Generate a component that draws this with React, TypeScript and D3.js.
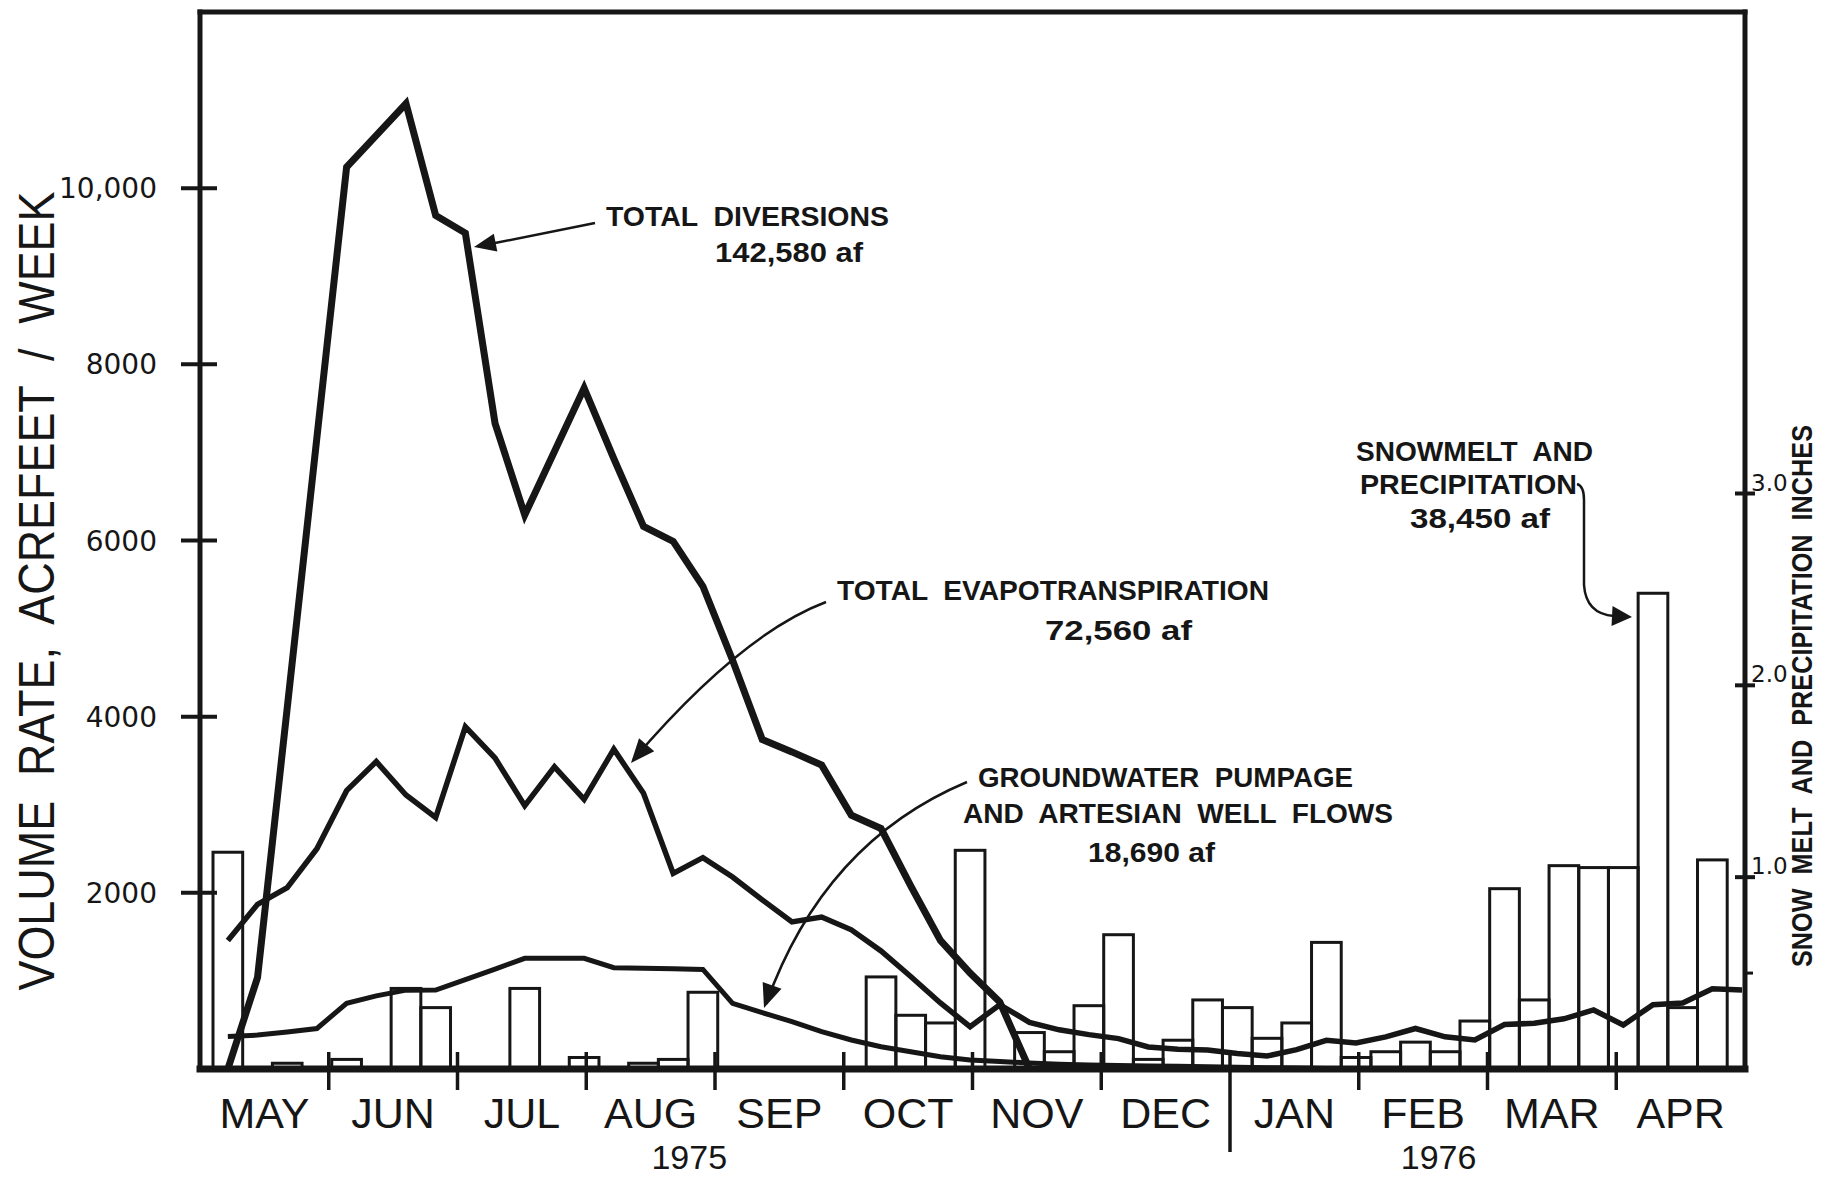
import React from "react";
import * as d3 from "d3";

// ---------- data ----------
const MONTHS = ["MAY", "JUN", "JUL", "AUG", "SEP", "OCT", "NOV", "DEC", "JAN", "FEB", "MAR", "APR"];
const YEARS = ["1975", "1976"];
const LEFT_TICKS = [2000, 4000, 6000, 8000, 10000];
const LEFT_TICK_LABELS = ["2000", "4000", "6000", "8000", "10,000"];
const RIGHT_TICKS = [1.0, 2.0, 3.0];
const RIGHT_TICK_LABELS = ["1.0", "2.0", "3.0"];
const RIGHT_MINOR_TICKS = [0.5];

// weekly values (acre-feet / week), week 0 = first week of May 1975
const TOTAL_DIVERSIONS = [
  0, 1040, 4100, 7170, 10240, 10600, 10960, 9690, 9490, 7330, 6290, 7010, 7730, 6930,
  6160, 5990, 5480, 4640, 3740, 3600, 3450, 2880, 2730, 2080, 1460, 1090, 760, 0,
];
const TOTAL_EVAPOTRANSPIRATION = [
  1460, 1870, 2060, 2500, 3160, 3490, 3110, 2855, 3885, 3530, 2990, 3430, 3060, 3630,
  3130, 2220, 2400, 2180, 1920, 1670, 1725, 1580, 1340, 1050, 750, 480, 730, 530, 445,
  390, 345, 250, 225, 215, 175, 147, 220, 325, 295, 365, 460, 365, 330, 505, 519, 570,
  670, 500, 730, 750, 910, 897,
];
const GROUNDWATER = [
  370, 385, 420, 460, 746, 830, 895, 897, 1015, 1135, 1256, 1256, 1256, 1150, 1145, 1138,
  1130, 746, 640, 537, 424, 329, 253, 196, 140, 102, 85, 68, 55, 45, 40, 35, 30, 25, 20,
  15, 10, 5, 0, 0, 0, 0, 0, 0, 0, 0, 0, 0, 0, 0, 0, 0,
];
// weekly snowmelt and precipitation (inches)
const SNOWMELT_PRECIP = [
  1.13, 0, 0.03, 0, 0.05, 0, 0.42, 0.32, 0, 0,
  0.42, 0, 0.06, 0, 0.03, 0.05, 0.4, 0, 0, 0,
  0, 0, 0.48, 0.28, 0.24, 1.14, 0, 0.19, 0.09, 0.33,
  0.7, 0.05, 0.15, 0.36, 0.32, 0.16, 0.24, 0.66, 0.06, 0.09,
  0.14, 0.09, 0.25, 0.94, 0.36, 1.06, 1.05, 1.05, 2.48, 0.32, 1.09,
];

// ---------- layout ----------
const W = 1826;
const H = 1178;
const X0 = 200;
const X1 = 1745;
const Y_BASE = 1069;
const Y_TOP = 12;
const INK = "#161616";
const FONT = "'Liberation Sans', Arial, sans-serif";
const FONT_NUM = "'DejaVu Sans', 'Liberation Sans', sans-serif";

const xMonth = d3.scaleLinear().domain([0, 12]).range([X0, X1]);
const xWeek = d3.scaleLinear().domain([0, 51]).range([213, 1727.2]);
const yLeft = d3.scaleLinear().domain([0, 12000]).range([Y_BASE, Y_TOP]);
const yRight = d3.scaleLinear().domain([0, 5.51]).range([Y_BASE, Y_TOP]);

const weekLine = d3
  .line<number>()
  .x((_, i) => xWeek(i + 0.5))
  .y((d) => yLeft(d));

function arrowHead(tipX: number, tipY: number, dx: number, dy: number, len: number, half: number) {
  const n = Math.hypot(dx, dy);
  const ux = dx / n;
  const uy = dy / n;
  const bx = tipX - ux * len;
  const by = tipY - uy * len;
  const px = -uy * half;
  const py = ux * half;
  return `M${tipX},${tipY}L${bx + px},${by + py}L${bx - px},${by - py}Z`;
}

function Label(props: {
  x: number;
  y: number;
  text: string;
  size: number;
  len?: number;
  weight?: string | number;
  anchor?: "start" | "middle" | "end";
  family?: string;
  transform?: string;
}) {
  const { x, y, text, size, len, weight = "normal", anchor = "start", family = FONT, transform } = props;
  return (
    <text
      x={x}
      y={y}
      fontSize={size}
      fontFamily={family}
      fontWeight={weight}
      textAnchor={anchor}
      fill={INK}
      transform={transform}
      textLength={len}
      lengthAdjust={len ? "spacingAndGlyphs" : undefined}
      style={{ whiteSpace: "pre" }}
    >
      {text}
    </text>
  );
}

export default function App() {
  const barW = xWeek(1) - xWeek(0);

  // annotation arrows
  const etPath = "M826,602 Q741,634 633,760";
  const gwPath = "M967,782 Q824,842 766,1004";
  const smPath = "M1577,484 Q1584,486 1584,500 L1584,585 Q1586,614 1614,616";

  return (
    <svg
      width={W}
      height={H}
      viewBox={`0 0 ${W} ${H}`}
      style={{ position: "absolute", left: 0, top: 0, background: "#ffffff" }}
    >
      <rect x={0} y={0} width={W} height={H} fill="#ffffff" />

      {/* snowmelt bars */}
      <g fill="none" stroke={INK} strokeWidth={3}>
        {SNOWMELT_PRECIP.map((v, i) =>
          v > 0 ? (
            <rect key={i} x={xWeek(i)} y={yRight(v)} width={barW} height={Y_BASE - yRight(v)} />
          ) : null
        )}
      </g>

      {/* lines */}
      <g fill="none" stroke={INK} strokeLinejoin="miter" strokeMiterlimit={6}>
        <path d={weekLine(GROUNDWATER) || ""} strokeWidth={5} />
        <path d={weekLine(TOTAL_EVAPOTRANSPIRATION) || ""} strokeWidth={5.5} />
        <path d={weekLine(TOTAL_DIVERSIONS) || ""} strokeWidth={7} />
      </g>

      {/* frame */}
      <g stroke={INK} fill="none" strokeLinecap="square">
        <line x1={X0} y1={Y_TOP} x2={X1} y2={Y_TOP} strokeWidth={5} />
        <line x1={X0} y1={Y_TOP} x2={X0} y2={Y_BASE} strokeWidth={5} />
        <line x1={X1} y1={Y_TOP} x2={X1} y2={Y_BASE} strokeWidth={5} />
        <line x1={X0} y1={Y_BASE} x2={X1} y2={Y_BASE} strokeWidth={7} />
      </g>

      {/* left axis ticks + labels */}
      <g>
        {LEFT_TICKS.map((t, i) => (
          <g key={t}>
            <line x1={181} x2={217} y1={yLeft(t)} y2={yLeft(t)} stroke={INK} strokeWidth={4} />
            <Label x={157} y={yLeft(t) + 10} text={LEFT_TICK_LABELS[i]} size={28} anchor="end" family={FONT_NUM} />
          </g>
        ))}
      </g>

      {/* right axis ticks + labels */}
      <g>
        {RIGHT_TICKS.map((t, i) => (
          <g key={t}>
            <line x1={1735} x2={1755} y1={yRight(t)} y2={yRight(t)} stroke={INK} strokeWidth={4} />
            <Label x={1751} y={yRight(t) - 3} text={RIGHT_TICK_LABELS[i]} size={23} family={FONT_NUM} />
          </g>
        ))}
        {RIGHT_MINOR_TICKS.map((t) => (
          <line key={t} x1={1745} x2={1753} y1={yRight(t)} y2={yRight(t)} stroke={INK} strokeWidth={3} />
        ))}
      </g>

      {/* month ticks and labels */}
      <g>
        {d3.range(1, 12).map((m) => (
          <line
            key={m}
            x1={xMonth(m)}
            x2={xMonth(m)}
            y1={1052}
            y2={m === 8 ? 1152 : 1090}
            stroke={INK}
            strokeWidth={3.5}
          />
        ))}
        {MONTHS.map((mo, i) => (
          <Label key={mo} x={xMonth(i + 0.5)} y={1128} text={mo} size={43} anchor="middle" />
        ))}
        <Label x={xMonth(3.8)} y={1169} text={YEARS[0]} size={34} anchor="middle" />
        <Label x={xMonth(9.62)} y={1169} text={YEARS[1]} size={34} anchor="middle" />
      </g>

      {/* axis titles */}
      <Label
        x={0}
        y={0}
        text="VOLUME  RATE,  ACREFEET  /  WEEK"
        size={50}
        anchor="middle"
        len={799}
        transform="translate(54,591) rotate(-90)"
      />
      <Label
        x={0}
        y={0}
        text="SNOW  MELT  AND  PRECIPITATION  INCHES"
        size={29}
        weight="bold"
        anchor="middle"
        len={542}
        transform="translate(1812,696) rotate(-90)"
      />

      {/* annotations */}
      <g>
        <Label x={606} y={226} text="TOTAL  DIVERSIONS" size={28} weight="bold" len={283} />
        <Label x={715} y={262} text="142,580 af" size={28} weight="bold" len={148} />
        <line x1={595} y1={223} x2={490} y2={244} stroke={INK} strokeWidth={2.5} />
        <path d={arrowHead(474, 247, -120, 24, 22, 9)} fill={INK} />

        <Label x={837} y={600} text="TOTAL  EVAPOTRANSPIRATION" size={28} weight="bold" len={432} />
        <Label x={1045} y={640} text="72,560 af" size={28} weight="bold" len={147} />
        <path d={etPath} fill="none" stroke={INK} strokeWidth={2.5} />
        <path d={arrowHead(631, 763, -108, 126, 24, 10)} fill={INK} />

        <Label x={978} y={787} text="GROUNDWATER  PUMPAGE" size={28} weight="bold" len={375} />
        <Label x={963} y={823} text="AND  ARTESIAN  WELL  FLOWS" size={28} weight="bold" len={430} />
        <Label x={1088} y={862} text="18,690 af" size={28} weight="bold" len={127} />
        <path d={gwPath} fill="none" stroke={INK} strokeWidth={2.5} />
        <path d={arrowHead(764, 1008, -58, 162, 24, 10)} fill={INK} />

        <Label x={1356} y={461} text="SNOWMELT  AND" size={28} weight="bold" len={237} />
        <Label x={1360} y={494} text="PRECIPITATION" size={28} weight="bold" len={217} />
        <Label x={1410} y={528} text="38,450 af" size={28} weight="bold" len={140} />
        <path d={smPath} fill="none" stroke={INK} strokeWidth={2.5} />
        <path d={arrowHead(1632, 617, 1, 0.05, 20, 10)} fill={INK} />
      </g>
    </svg>
  );
}
